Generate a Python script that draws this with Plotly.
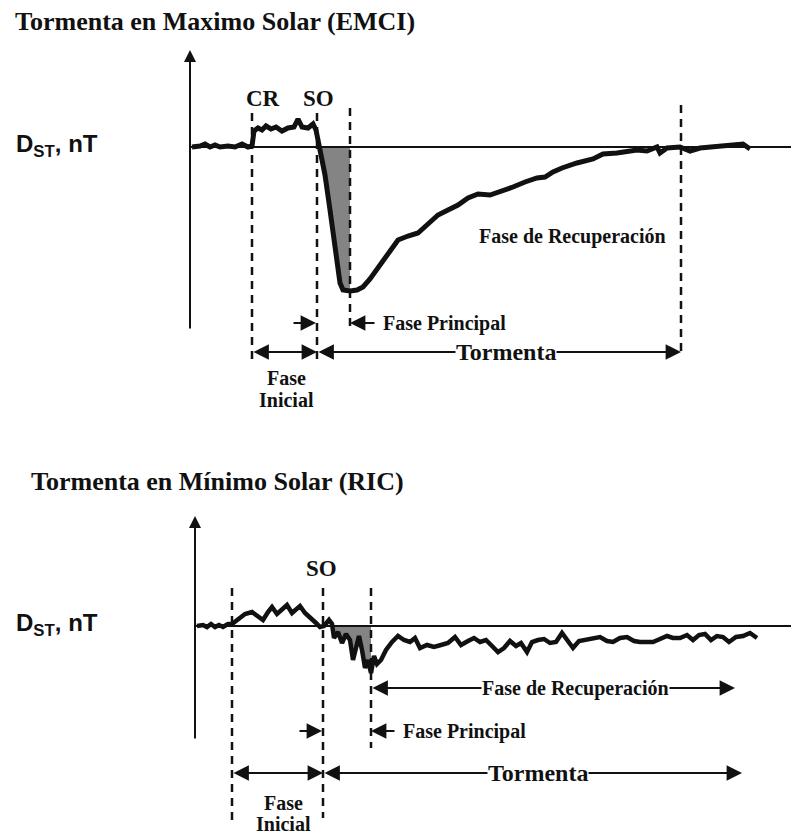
import numpy as np
import plotly.graph_objects as go

# ---------------- DATA ----------------
# Panel 1: storm at solar maximum (EMCI). time in hours, Dst in nT
t_max = [0.2, 1.0, 1.5, 2.0, 2.5, 3.0, 3.8, 4.5, 5.2, 5.8, 6.2, 6.4, 6.8, 7.2, 7.6, 8.1, 8.6, 9.2,
         9.8, 10.4, 10.8, 11.2, 11.8, 12.3, 12.6, 12.8, 13.0, 13.5, 14.0, 14.5, 15.0, 15.3, 16.0,
         16.7, 17.3, 18.0, 19.0, 20.0, 20.8, 21.8, 22.8, 23.8, 24.8, 25.8, 26.8, 27.8, 28.8, 30.0,
         31.0, 32.3, 33.5, 34.7, 35.5, 36.3, 37.2, 38.7, 40.3, 41.3, 42.7, 44.7, 45.7, 46.7, 47.0,
         47.7, 49.0, 50.0, 51.0, 52.3, 54.3, 55.3, 56.0]
dst_max = [0, 1, 3, 0, 2, 0, 1, 0, 3, 0, 1, 16, 19, 17, 21, 18, 20, 16,
           19, 20, 28, 20, 19, 23, 17, 7, -3, -28, -63, -103, -136, -143, -144,
           -143, -140, -132, -118, -103, -93, -89, -86, -77, -68, -63, -58, -51, -47, -48,
           -45, -40, -35, -31, -30, -25, -21, -16, -12, -7, -6, -3, -4, 0, -6,
           -1, 0, -4, -1, 0, 1, 3, -2]
# event times panel 1: CR, SO, end of main phase, end of storm
events_max = {"CR": 6.2, "SO": 12.7, "MAIN": 16.0, "END": 49.1}

# Panel 2: storm at solar minimum (RIC)
t_min = [0.2, 0.8, 1.2, 1.6, 2.0, 2.4, 2.8, 3.3, 3.7, 4.3, 5.0, 5.7, 6.3, 6.8, 7.3, 7.7, 8.2, 8.7,
         9.2, 9.7, 10.1, 10.5, 11.0, 11.6, 12.1, 12.5, 12.9, 13.4, 13.7, 13.9, 14.3, 14.7, 15.1,
         15.5, 15.8, 16.1, 16.4, 16.7, 17.0, 17.3, 17.6, 17.9, 18.2, 18.6, 19.1, 19.7, 20.3, 20.9,
         21.5, 22.0, 22.5, 23.2, 23.9, 24.6, 25.3, 26.0, 26.6, 27.3, 27.9, 28.5, 29.1, 29.7, 30.3,
         30.9, 31.5, 32.1, 32.6, 33.2, 33.7, 34.3, 34.9, 35.5, 36.1, 36.7, 37.2, 37.8, 38.4, 39.1,
         39.8, 40.5, 41.2, 41.8, 42.5, 43.2, 43.9, 44.5, 45.2, 45.8, 46.5, 47.2, 47.8, 48.5, 49.2,
         49.8, 50.4, 51.0, 51.6, 52.2, 52.8, 53.4, 54.1, 54.8, 55.5, 56.2]
dst_min = [0, 1, -1, 2, -1, 1, -1, 2, 2, 6, 12, 14, 9, 6, 14, 19, 12, 16,
           21, 13, 17, 20, 13, 8, 3, -1, 0, 6, 2, -12, -6, -17, -8,
           -14, -34, -22, -10, -24, -42, -34, -47, -30, -38, -34, -24, -16, -10, -14,
           -16, -12, -22, -19, -21, -19, -17, -11, -19, -15, -12, -16, -14, -20, -26,
           -22, -15, -20, -17, -26, -16, -14, -13, -17, -16, -7, -14, -22, -15, -14,
           -12, -11, -15, -16, -12, -11, -15, -16, -16, -16, -13, -10, -12, -12, -9,
           -14, -9, -8, -14, -10, -11, -16, -11, -10, -7, -12]
events_min = {"ONSET": 3.7, "SO": 12.8, "MAIN": 17.6, "REC_END": 54.0, "END": 54.7}

titles = ["Tormenta en Maximo Solar (EMCI)", "Tormenta en Mínimo Solar (RIC)"]
ylabel = "D<sub>ST</sub>, nT"

# ---------------- FIGURE ----------------
SERIF = "Liberation Serif"
SANS = "Liberation Sans"
BLACK = "#111111"

fig = go.Figure()


def shade(t, d, t0, t1):
    t = np.asarray(t, float)
    d = np.asarray(d, float)
    m = (t >= t0) & (t <= t1)
    xs = [t0] + list(t[m]) + [t1, t1]
    ys = [0] + list(np.minimum(d[m], 0)) + [min(np.interp(t1, t, d), 0), 0]
    return xs, ys


# shaded main phase areas
sx, sy = shade(t_max, dst_max, events_max["SO"], events_max["MAIN"])
fig.add_trace(go.Scatter(x=sx, y=sy, fill="toself", fillcolor="rgba(110,110,110,0.85)",
                         line=dict(width=0), mode="lines", hoverinfo="skip",
                         xaxis="x", yaxis="y"))
sx2, sy2 = shade(t_min, dst_min, events_min["SO"], events_min["MAIN"])
fig.add_trace(go.Scatter(x=sx2, y=sy2, fill="toself", fillcolor="rgba(110,110,110,0.85)",
                         line=dict(width=0), mode="lines", hoverinfo="skip",
                         xaxis="x2", yaxis="y2"))

# curves
fig.add_trace(go.Scatter(x=t_max, y=dst_max, mode="lines",
                         line=dict(color=BLACK, width=5), xaxis="x", yaxis="y"))
fig.add_trace(go.Scatter(x=t_min, y=dst_min, mode="lines",
                         line=dict(color=BLACK, width=4.5), xaxis="x2", yaxis="y2"))

shapes = []
annotations = []

# --- baselines
shapes.append(dict(type="line", xref="x", yref="y", x0=0, x1=61, y0=0, y1=0,
                   line=dict(color=BLACK, width=1.8)))
shapes.append(dict(type="line", xref="x2", yref="y2", x0=0, x1=61, y0=0, y1=0,
                   line=dict(color=BLACK, width=1.8)))

# --- vertical axes with arrow
annotations.append(dict(xref="x", yref="y", axref="x", ayref="y", x=0, y=97, ax=0, ay=-183,
                        text="", showarrow=True, arrowhead=2, arrowsize=1.2, arrowwidth=2,
                        arrowcolor=BLACK))
annotations.append(dict(xref="x2", yref="y2", axref="x2", ayref="y2", x=0, y=110, ax=0, ay=-114,
                        text="", showarrow=True, arrowhead=2, arrowsize=1.2, arrowwidth=2,
                        arrowcolor=BLACK))

DASH = dict(color=BLACK, width=2.5, dash="8px,6px")
# --- dashed event lines panel 1
for key, (y0, y1) in {"CR": (34, -215), "SO": (34, -218), "MAIN": (39, -180),
                      "END": (42, -210)}.items():
    shapes.append(dict(type="line", xref="x", yref="y", x0=events_max[key], x1=events_max[key],
                       y0=y0, y1=y1, line=DASH))
# --- dashed event lines panel 2
for key, (y0, y1) in {"ONSET": (38, -194), "SO": (38, -192), "MAIN": (38, -122)}.items():
    shapes.append(dict(type="line", xref="x2", yref="y2", x0=events_min[key], x1=events_min[key],
                       y0=y0, y1=y1, line=DASH))


def arrow(xr, yr, x_head, x_tail, y, both=False):
    d = dict(xref=xr, yref=yr, axref=xr, ayref=yr, x=x_head, y=y, ax=x_tail, ay=y,
             text="", showarrow=True, arrowhead=2, arrowsize=1.4, arrowwidth=2.2,
             arrowcolor=BLACK, standoff=0, startstandoff=0)
    if both:
        d.update(arrowside="end+start", startarrowhead=2, startarrowsize=1.4)
    return d


def label(xr, yr, x, y, text, size, family=SERIF, xanchor="center", bg=None):
    d = dict(xref=xr, yref=yr, x=x, y=y, text="<b>" + text + "</b>", showarrow=False,
             xanchor=xanchor, yanchor="middle", font=dict(family=family, size=size, color=BLACK))
    if bg:
        d.update(bgcolor=bg, borderpad=0)
    return d


# --- panel 1 arrows and labels
e = events_max
annotations.append(arrow("x", "y", e["SO"] - 0.1, e["SO"] - 2.5, -176))
annotations.append(arrow("x", "y", e["MAIN"], e["MAIN"] + 2.6, -176))
annotations.append(arrow("x", "y", e["SO"], e["CR"], -205, both=True))
annotations.append(arrow("x", "y", e["END"], e["SO"], -205, both=True))
annotations.append(label("x", "y", e["MAIN"] + 3.1, -176, "Fase Principal", 20, xanchor="left"))
annotations.append(label("x", "y", 31.6, -205, "Tormenta", 24, bg="white"))
annotations.append(label("x", "y", 9.6, -231, "Fase", 20))
annotations.append(label("x", "y", 9.6, -253, "Inicial", 20))
annotations.append(label("x", "y", 38.2, -89, "Fase de Recuperación", 20))
annotations.append(label("x", "y", 7.3, 49, "CR", 23))
annotations.append(label("x", "y", 12.8, 49, "SO", 23))

# --- panel 2 arrows and labels
e = events_min
annotations.append(arrow("x2", "y2", e["SO"] - 0.1, e["SO"] - 2.5, -105))
annotations.append(arrow("x2", "y2", e["MAIN"], e["MAIN"] + 2.5, -105))
annotations.append(arrow("x2", "y2", e["SO"], e["ONSET"], -147, both=True))
annotations.append(arrow("x2", "y2", e["END"], e["SO"], -147, both=True))
annotations.append(arrow("x2", "y2", e["REC_END"], e["MAIN"], -62, both=True))
annotations.append(label("x2", "y2", e["MAIN"] + 3.0, -105, "Fase Principal", 20, xanchor="left"))
annotations.append(label("x2", "y2", 34.3, -147, "Tormenta", 24, bg="white"))
annotations.append(label("x2", "y2", 38.0, -62, "Fase de Recuperación", 20, bg="white"))
annotations.append(label("x2", "y2", 8.8, -177, "Fase", 20))
annotations.append(label("x2", "y2", 8.8, -198, "Inicial", 20))
annotations.append(label("x2", "y2", 12.6, 58, "SO", 23))

# --- titles and y labels (paper coordinates)
annotations.append(dict(xref="paper", yref="paper", x=13 / 791, y=1 - 22 / 834, text="<b>" + titles[0] + "</b>",
                        showarrow=False, xanchor="left", yanchor="middle",
                        font=dict(family=SERIF, size=26, color=BLACK)))
annotations.append(dict(xref="paper", yref="paper", x=29 / 791, y=1 - 482 / 834, text="<b>" + titles[1] + "</b>",
                        showarrow=False, xanchor="left", yanchor="middle",
                        font=dict(family=SERIF, size=26, color=BLACK)))
annotations.append(dict(xref="paper", yref="y", x=14 / 791, y=2, text="<b>" + ylabel + "</b>",
                        showarrow=False, xanchor="left", yanchor="middle",
                        font=dict(family=SANS, size=24, color=BLACK)))
annotations.append(dict(xref="paper", yref="y2", x=14 / 791, y=2, text="<b>" + ylabel + "</b>",
                        showarrow=False, xanchor="left", yanchor="middle",
                        font=dict(family=SANS, size=24, color=BLACK)))

ax_common = dict(visible=False, showgrid=False, zeroline=False, fixedrange=True)
fig.update_layout(
    width=791, height=834,
    margin=dict(l=0, r=0, t=0, b=0),
    paper_bgcolor="white", plot_bgcolor="white",
    showlegend=False,
    xaxis=dict(domain=[0, 1], range=[-19.0, 60.1], **ax_common),
    yaxis=dict(domain=[0, 1], range=[-687, 147], **ax_common),
    xaxis2=dict(domain=[0, 1], range=[-19.5, 59.6], overlaying="x", anchor="y2", **ax_common),
    yaxis2=dict(domain=[0, 1], range=[-208, 626], overlaying="y", anchor="x2", **ax_common),
    shapes=shapes,
    annotations=annotations,
)

fig.write_html("out.html")
